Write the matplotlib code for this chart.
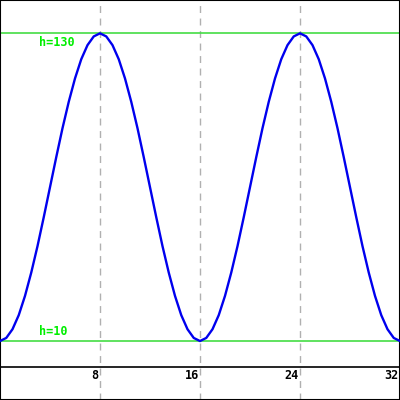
import matplotlib.pyplot as plt
import numpy as np

# curve samples (x step 0.5)
x = np.arange(0, 32.5, 0.5)
h = [10.0, 11.2, 14.6, 20.1, 27.6, 36.7, 47.0, 58.3, 70.0, 81.7, 93.0, 103.3,
     112.4, 119.9, 125.4, 128.8, 130.0, 128.8, 125.4, 119.9, 112.4, 103.3,
     93.0, 81.7, 70.0, 58.3, 47.0, 36.7, 27.6, 20.1, 14.6, 11.2, 10.0,
     11.2, 14.6, 20.1, 27.6, 36.7, 47.0, 58.3, 70.0, 81.7, 93.0, 103.3,
     112.4, 119.9, 125.4, 128.8, 130.0, 128.8, 125.4, 119.9, 112.4, 103.3,
     93.0, 81.7, 70.0, 58.3, 47.0, 36.7, 27.6, 20.1, 14.6, 11.2, 10.0]
grid_x = [8, 16, 24]
tick_x = [8, 16, 24, 32]
levels = [130, 10]

fig = plt.figure(figsize=(4, 4), dpi=100)
ax = fig.add_axes([0, 0, 1, 1])
ax.set_xlim(0, 32)
ax.set_ylim(-13, 143)

for gx in grid_x:
    ax.axvline(gx, color="#b0b0b0", lw=1, ls=(0, (5, 4)), zorder=1)

for lv in levels:
    ax.axhline(lv, color="#44dd44", lw=1.2, zorder=2)

ax.text(3.1, 130 - 1.0, "h=130", color="#00ee00", fontsize=8.5, fontweight="bold",
        family="DejaVu Sans Mono", ha="left", va="top")
ax.text(3.1, 10 + 1.0, "h=10", color="#00ee00", fontsize=8.5, fontweight="bold",
        family="DejaVu Sans Mono", ha="left", va="bottom")

ax.axhline(0, color="black", lw=1.2, zorder=2)
for tx in tick_x:
    ax.text(tx - 0.1, -0.9, str(tx), fontsize=8.5, fontweight="bold",
            family="DejaVu Sans Mono", ha="right", va="top")

ax.plot(x, h, color="#0000ee", lw=1.7, zorder=3)

ax.set(xticks=[], yticks=[])
for s in ax.spines.values():
    s.set_color("black")
    s.set_linewidth(1.5)

fig.savefig("out.png", dpi=100)
